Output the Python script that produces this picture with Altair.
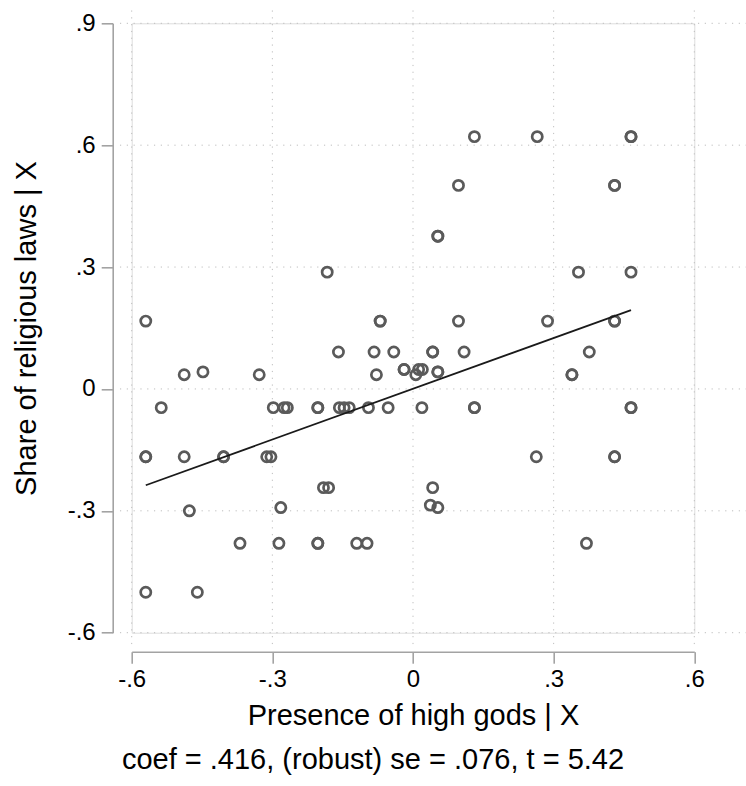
import altair as alt
import pandas as pd

# ---- data ----
x_vals = [0.131, 0.265, 0.465, 0.465, 0.097, 0.430, 0.430, 0.053, 0.053,
          -0.183, 0.353, 0.465,
          -0.570, -0.070, -0.070, 0.097, 0.287, 0.430, 0.430,
          -0.159, -0.083, -0.041, 0.042, 0.042, 0.109, 0.376,
          -0.019, -0.019, 0.012, 0.020, 0.006, 0.053, 0.053,
          -0.488, -0.448, -0.328, -0.078, 0.339, 0.339,
          -0.537, -0.298, -0.275, -0.268, -0.203, -0.203, -0.157, -0.147, -0.136,
          -0.095, -0.053, 0.019, 0.131, 0.131, 0.465, 0.465,
          -0.570, -0.570, -0.488, -0.404, -0.404, -0.312, -0.303, 0.263, 0.430, 0.430,
          -0.191, -0.180, 0.042,
          -0.477, -0.282, 0.037, 0.053,
          -0.369, -0.286, -0.203, -0.203, -0.120, -0.098, 0.370,
          -0.570, -0.460]
y_vals = [0.621, 0.621, 0.621, 0.621, 0.501, 0.501, 0.501, 0.376, 0.376,
          0.2875, 0.2875, 0.2875,
          0.167, 0.167, 0.167, 0.167, 0.167, 0.167, 0.167,
          0.091, 0.091, 0.091, 0.091, 0.091, 0.091, 0.091,
          0.048, 0.048, 0.048, 0.048, 0.035, 0.042, 0.042,
          0.035, 0.042, 0.035, 0.035, 0.035, 0.035,
          -0.046, -0.046, -0.046, -0.046, -0.046, -0.046, -0.046, -0.046, -0.046,
          -0.046, -0.046, -0.046, -0.046, -0.046, -0.046, -0.046,
          -0.167, -0.167, -0.167, -0.167, -0.167, -0.167, -0.167, -0.167, -0.167, -0.167,
          -0.243, -0.243, -0.243,
          -0.300, -0.292, -0.286, -0.292,
          -0.380, -0.380, -0.380, -0.380, -0.380, -0.380, -0.380,
          -0.5005, -0.5005]

fit_x = [-0.570, 0.465]
fit_y = [-0.237, 0.194]

x_ticks = [-0.6, -0.3, 0.0, 0.3, 0.6]
x_tick_labels = ["-.6", "-.3", "0", ".3", ".6"]
y_ticks = [-0.6, -0.3, 0.0, 0.3, 0.6, 0.9]
y_tick_labels = ["-.6", "-.3", "0", ".3", ".6", ".9"]

x_title = "Presence of high gods | X"
y_title = "Share of religious laws | X"
note = "coef = .416, (robust) se = .076, t = 5.42"

# ---- styling ----
FONT = "Liberation Sans"
GRID_X_EXT = (-0.625, 0.72)
GRID_Y_EXT = (-0.628, 0.943)


def label_expr(vals, labs):
    expr = "''"
    for v, l in reversed(list(zip(vals, labs))):
        expr = f"(abs(datum.value - ({v})) < 1e-9 ? '{l}' : {expr})"
    return expr


pts = pd.DataFrame({"x": x_vals, "y": y_vals})
fit = pd.DataFrame({"x": fit_x, "y": fit_y})
vgrid = pd.DataFrame({"x": x_ticks, "y": GRID_Y_EXT[0], "y2": GRID_Y_EXT[1]})
hgrid = pd.DataFrame({"y": y_ticks, "x": GRID_X_EXT[0], "x2": GRID_X_EXT[1]})

xscale = alt.Scale(domain=[-0.6, 0.6], nice=False, zero=False)
yscale = alt.Scale(domain=[-0.6, 0.9], nice=False, zero=False)

axis_common = dict(
    grid=False, domainColor="#a3a3a3", domainWidth=1.6, tickColor="#a3a3a3",
    tickWidth=1.6, tickSize=11.5, labelFont=FONT, labelFontSize=24,
    labelColor="black", titleFont=FONT, titleFontSize=29, titleFontWeight="normal",
    titleColor="black", offset=19, labelFlush=False, labelOverlap=False,
)
xaxis = alt.Axis(values=x_ticks, labelExpr=label_expr(x_ticks, x_tick_labels),
                 labelPadding=4, titlePadding=10, title=x_title, **axis_common)
yaxis = alt.Axis(values=y_ticks, labelExpr=label_expr(y_ticks, y_tick_labels),
                 labelPadding=6, title=y_title, titleX=-86, titleBaseline="middle",
                 **axis_common)

X = alt.X("x:Q", scale=xscale, axis=xaxis)
Y = alt.Y("y:Q", scale=yscale, axis=yaxis)

grid_style = dict(color="#bdbdbd", strokeWidth=1, strokeDash=[1.2, 5.6], clip=False)

vg = alt.Chart(vgrid).mark_rule(**grid_style).encode(x=X, y=Y, y2="y2:Q")
hg = alt.Chart(hgrid).mark_rule(**grid_style).encode(y=Y, x=X, x2="x2:Q")

points = alt.Chart(pts).mark_point(
    shape="circle", filled=False, size=104, strokeWidth=2.7, color="#5a5a5a", opacity=1
).encode(x=X, y=Y)

line = alt.Chart(fit).mark_line(color="#1a1a1a", strokeWidth=1.8).encode(x=X, y=Y)

chart = alt.layer(vg, hg, points, line).properties(
    width=562.6,
    height=609.4,
    autosize=alt.AutoSizeParams(type="none"),
    padding={"left": 131.7, "top": 23.3, "right": 51.7, "bottom": 153.3},
    title=alt.TitleParams(note, orient="bottom", anchor="middle", font=FONT,
                          fontSize=29, fontWeight="normal", color="black",
                          offset=16, dx=-40),
).configure_view(stroke=None).configure(background="white")

chart.save("out.html", embed_options={"renderer": "svg", "actions": False})
